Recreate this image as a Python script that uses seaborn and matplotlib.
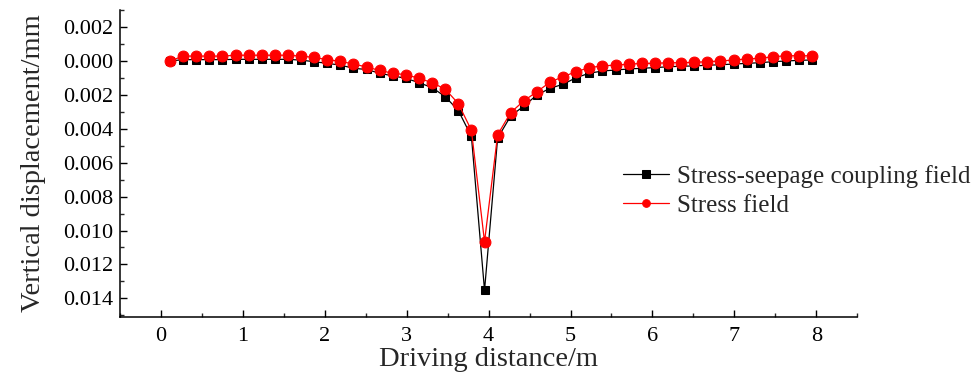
import matplotlib
matplotlib.use("Agg")
import matplotlib.pyplot as plt
import seaborn as sns
import numpy as np
import pandas as pd
from matplotlib.ticker import MultipleLocator, FuncFormatter

# ---------------- data ----------------
distance = [0.11, 0.27, 0.43, 0.59, 0.75, 0.91, 1.07, 1.23, 1.39, 1.55,
            1.71, 1.87, 2.03, 2.19, 2.35, 2.51, 2.67, 2.83, 2.99, 3.15,
            3.31, 3.47, 3.63, 3.79, 3.95, 4.11, 4.27, 4.43, 4.59, 4.75,
            4.91, 5.07, 5.23, 5.39, 5.55, 5.71, 5.87, 6.03, 6.19, 6.35,
            6.51, 6.67, 6.83, 6.99, 7.15, 7.31, 7.47, 7.63, 7.79, 7.95]

coupling = [0.00000, -0.00008, -0.00008, -0.00008, -0.00008, -0.00010, -0.00010, -0.00010, -0.00010, -0.00010,
            -0.00005, 0.00004, 0.00014, 0.00024, 0.00043, 0.00050, 0.00072, 0.00088, 0.00102, 0.00128,
            0.00157, 0.00210, 0.00292, 0.00445, 0.01353, 0.00455, 0.00324, 0.00266, 0.00200, 0.00161,
            0.00137, 0.00098, 0.00072, 0.00059, 0.00053, 0.00047, 0.00043, 0.00039, 0.00034, 0.00031,
            0.00029, 0.00025, 0.00022, 0.00018, 0.00014, 0.00010, 0.00004, 0.00000, -0.00004, -0.00006]

stress = [0.00000, -0.00029, -0.00029, -0.00029, -0.00029, -0.00034, -0.00034, -0.00034, -0.00034, -0.00034,
          -0.00029, -0.00021, -0.00008, 0.00002, 0.00018, 0.00035, 0.00056, 0.00072, 0.00081, 0.00102,
          0.00128, 0.00166, 0.00251, 0.00409, 0.01066, 0.00435, 0.00304, 0.00235, 0.00181, 0.00125,
          0.00092, 0.00063, 0.00039, 0.00029, 0.00024, 0.00019, 0.00014, 0.00014, 0.00010, 0.00010,
          0.00008, 0.00004, 0.00000, -0.00006, -0.00012, -0.00016, -0.00025, -0.00031, -0.00031, -0.00031]

series_names = ["Stress-seepage coupling field", "Stress field"]
x_label = "Driving distance/m"
y_label = "Vertical displacement/mm"

df = pd.DataFrame({
    "distance": distance * 2,
    "disp": coupling + stress,
    "series": [series_names[0]] * len(distance) + [series_names[1]] * len(distance),
})

# ---------------- style ----------------
sns.set_style("ticks")
plt.rcParams["font.family"] = ["Liberation Serif", "DejaVu Serif"]

fig = plt.figure(figsize=(9.79, 3.76), dpi=100)
ax = fig.add_axes([0.1226, 0.157, 0.753, 0.816])

sns.lineplot(data=df[df.series == series_names[0]], x="distance", y="disp",
             color="black", marker="s", markersize=6.4, markeredgecolor="black",
             linewidth=0.9, label=series_names[0], ax=ax, sort=False)
sns.lineplot(data=df[df.series == series_names[1]], x="distance", y="disp",
             color="red", marker="o", markersize=7.8, markeredgecolor="red",
             linewidth=0.9, label=series_names[1], ax=ax, sort=False)

ax.set_xlim(-0.5, 8.5)
ax.set_ylim(0.0151, -0.003)

ax.xaxis.set_major_locator(MultipleLocator(1))
ax.xaxis.set_minor_locator(MultipleLocator(0.5))
ax.yaxis.set_major_locator(MultipleLocator(0.002))
ax.yaxis.set_minor_locator(MultipleLocator(0.001))
ax.yaxis.set_major_formatter(FuncFormatter(lambda v, p: f"{abs(v):.3f}"))

ax.tick_params(axis="both", which="major", direction="in", length=5, width=1,
               labelsize=16, colors="black")
ax.tick_params(axis="both", which="minor", direction="in", length=3, width=1)
ax.tick_params(axis="x", pad=7)
ax.tick_params(axis="y", pad=5)

for s in ["top", "right"]:
    ax.spines[s].set_visible(False)
for s in ["left", "bottom"]:
    ax.spines[s].set_linewidth(1.1)
    ax.spines[s].set_color("black")

ax.set_xlabel(x_label, fontsize=20.5, labelpad=1)
ax.set_ylabel(y_label, fontsize=20.5, labelpad=12)

leg = ax.legend(loc="center left", bbox_to_anchor=(0.636, 0.492),
                bbox_transform=fig.transFigure, frameon=False, fontsize=18,
                handlelength=1.85, handletextpad=0.32, labelspacing=0.25,
                borderpad=0, borderaxespad=0, numpoints=1)
for h in leg.legend_handles:
    h.set_markersize(5.5)

fig.savefig("out.png", dpi=100)
